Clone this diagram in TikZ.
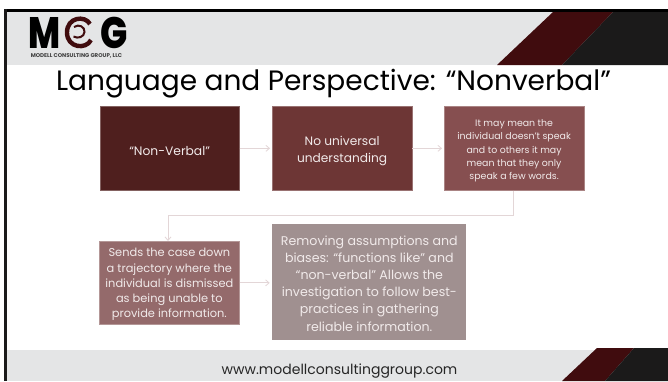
\documentclass[tikz,border=0pt]{standalone}
\usepackage{fontspec}
\setmainfont{Poppins}
\newfontfamily\logofont{Poppins ExtraBold}
\newcommand{\topgap}[1]{\rule{0pt}{#1}}
\usetikzlibrary{arrows.meta,calc}
\definecolor{bandgray}{HTML}{E4E5E6}
\definecolor{inkdark}{HTML}{1B1A1A}
\definecolor{wine}{HTML}{400C0E}
\definecolor{boxa}{HTML}{4F1F1E}
\definecolor{boxb}{HTML}{6D3635}
\definecolor{boxc}{HTML}{864F50}
\definecolor{boxd}{HTML}{946A6B}
\definecolor{boxe}{HTML}{A09090}
\definecolor{linkc}{HTML}{E3D6D7}
\definecolor{txtc}{HTML}{F1EAEA}
\tikzset{
  x=1pt,y=-1pt,
  flowbox/.style={draw=#1!70!white,line width=.7pt,fill=#1,text=txtc,align=center,anchor=north west,inner sep=0pt},
  link/.style={draw=linkc,line width=.8pt,-{Straight Barb[length=3.5pt,width=6pt]}},
  logotext/.style={inner sep=0pt,text=black,anchor=center,font=\logofont\fontsize{44}{44}\selectfont}
}
\begin{document}
\begin{tikzpicture}
\useasboundingbox (0,0) rectangle (668,381);
\fill[white] (0,0) rectangle (668,381);
% frame
\fill[black] (4,9) rectangle (668,12);
\fill[inkdark] (4,9) rectangle (6.5,381);
% header band
\fill[bandgray] (6.5,12) rectangle (668,65);
\fill[wine] (553,12) -- (613,12) -- (562,65) -- (497,65) -- cycle;
\fill[inkdark] (613,12) -- (668,12) -- (668,65) -- (562,65) -- cycle;
% footer band
\fill[bandgray] (6.5,350) rectangle (668,381);
\fill[wine] (597,348) -- (634,348) -- (605,381) -- (562,381) -- cycle;
\fill[inkdark] (634,348) -- (668,348) -- (668,381) -- (605,381) -- cycle;
% logo
\node[logotext,xscale=.78] (logoM) at (44.5,32.5) {M};
\node[logotext,xscale=.82] (logoG) at (114,32.5) {G};
\draw[wine,line width=4.4pt] (90,24) .. controls (85,15) and (67,17) .. (67,32.5) .. controls (67,48) and (86,50) .. (91,40);
\draw[wine,line width=2pt] (74,27) .. controls (79,23.5) and (85,27) .. (84.5,32) .. controls (84,37) and (78,39) .. (73.5,36.5);
\node[inner sep=0pt,font=\fontsize{5.5}{6}\bfseries\selectfont,text=black!75,anchor=center] (logoname) at (76.5,56) {MODELL CONSULTING GROUP, LLC};
% title
\node[inner sep=0pt,text=black,font=\fontsize{28}{32}\selectfont,anchor=center] (title) at (333.5,84) {Language and Perspective: “Nonverbal”};
% boxes
\node[flowbox=boxa,minimum width=139.5pt,minimum height=84pt,font=\fontsize{12.3}{15}\selectfont] (b1) at (99.5,106) {\topgap{14pt}“Non-Verbal”};
\node[flowbox=boxb,minimum width=139.5pt,minimum height=84pt,font=\fontsize{12.2}{16.7}\selectfont] (b2) at (272,106) {\topgap{14pt}No universal\\understanding};
\node[flowbox=boxc,minimum width=139.5pt,minimum height=84pt,font=\fontsize{9.4}{13.3}\selectfont] (b3) at (444,106) {\topgap{12pt}It may mean the\\individual doesn’t speak\\and to others it may\\mean that they only\\speak a few words.};
\node[flowbox=boxd,minimum width=140pt,minimum height=83pt,font=\fontsize{11.4}{15.2}\selectfont] (b4) at (99,241) {\topgap{12pt}Sends the case down\\a trajectory where the\\individual is dismissed\\as being unable to\\provide information.};
\node[flowbox=boxe,draw=none,minimum width=194pt,minimum height=116pt,font=\fontsize{12.6}{17.1}\selectfont] (b5) at (272,224) {\topgap{12pt}Removing assumptions and\\biases: “functions like” and\\“non-verbal” Allows the\\investigation to follow best-\\practices in gathering\\reliable information.};
% connectors
\coordinate (drop) at (513,215.5);
\coordinate (turn) at (168,215.5);
\draw[link] (b1.east) -- ($(b2.west)+(-2,0)$);
\draw[link] (b2.east) -- ($(b3.west)+(-2,0)$);
\draw[link] (b3.south -| drop) -- (drop) -- (turn) -- (turn |- b4.north);
\draw[link] (b4.east) -- ($(b4.east)+(30,0)$);
% footer text
\node[inner sep=0pt,text=black!85,font=\fontsize{14}{16}\selectfont,anchor=center] (site) at (339.5,371) {www.modellconsultinggroup.com};
\end{tikzpicture}
\end{document}
